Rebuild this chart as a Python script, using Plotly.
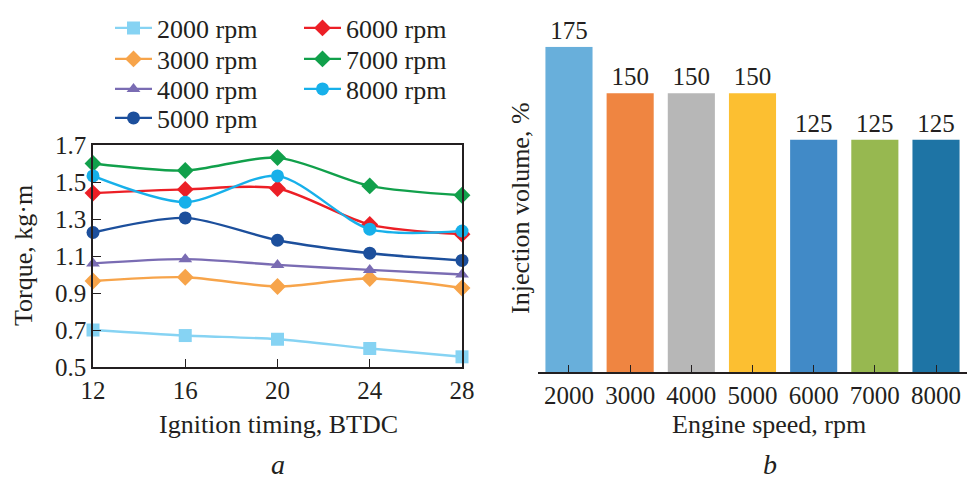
import plotly.graph_objects as go

timing = [12, 16, 20, 24, 28]
series_names = ["2000 rpm", "3000 rpm", "4000 rpm", "5000 rpm", "6000 rpm", "7000 rpm", "8000 rpm"]
torque_2000 = [0.70, 0.67, 0.65, 0.60, 0.555]
torque_3000 = [0.965, 0.985, 0.935, 0.978, 0.927]
torque_4000 = [1.06, 1.083, 1.052, 1.025, 1.0]
torque_5000 = [1.227, 1.306, 1.185, 1.115, 1.076]
torque_6000 = [1.44, 1.46, 1.465, 1.27, 1.218]
torque_7000 = [1.60, 1.562, 1.632, 1.479, 1.428]
torque_8000 = [1.533, 1.391, 1.533, 1.245, 1.235]

speeds = ["2000", "3000", "4000", "5000", "6000", "7000", "8000"]
injection = [175, 150, 150, 150, 125, 125, 125]

line_colors = ["#86d3f3", "#f7a44a", "#7a6cb3", "#1c4f9c", "#ec1f26", "#11a04b", "#17b0ea"]
symbols = ["square", "diamond", "triangle-up", "circle", "diamond", "diamond", "circle"]
bar_colors = ["#68afdb", "#ef8541", "#b7b7b7", "#fcbf31", "#418ac7", "#97b850", "#1e74a5"]

FONT = "Times New Roman, Liberation Serif, serif"
FS = 25
FT = 26
TXT = "#231f20"
W, H = 969, 482
all_torque = [torque_2000, torque_3000, torque_4000, torque_5000, torque_6000, torque_7000, torque_8000]

# legend placement (pixels): left edge and row centre
legend_pos = [(110, 28), (110, 59), (110, 89), (110, 118), (299, 28), (299, 59), (299, 89)]

fig = go.Figure()
for i, (name, vals) in enumerate(zip(series_names, all_torque)):
    fig.add_trace(go.Scatter(
        x=timing, y=vals, name=name, mode="lines+markers",
        line=dict(color=line_colors[i], width=2.4, shape="spline", smoothing=0.8),
        marker=dict(symbol=symbols[i], size=13 if symbols[i] != "triangle-up" else 12, color=line_colors[i]),
        xaxis="x", yaxis="y", cliponaxis=False,
        legend="legend" if i == 0 else f"legend{i + 1}",
    ))

fig.add_trace(go.Bar(
    x=speeds, y=injection, marker=dict(color=bar_colors, line=dict(width=0)),
    text=[str(v) for v in injection], textposition="outside", cliponaxis=False,
    textfont=dict(family=FONT, size=FS, color=TXT),
    xaxis="x2", yaxis="y2", showlegend=False,
))

axis_common = dict(showline=True, linecolor=TXT, linewidth=1.5, ticks="inside", ticklen=8,
                   tickcolor=TXT, tickfont=dict(family=FONT, size=FS, color=TXT),
                   showgrid=False, zeroline=False, automargin=False)

def note(text, x, y, angle=0, size=FT, yanchor="middle"):
    return dict(text=text, textangle=angle, x=x / W, y=1 - y / H, xref="paper", yref="paper",
                xanchor="center", yanchor=yanchor,
                showarrow=False, font=dict(family=FONT, size=size, color=TXT))

legends = {}
for i, (lx, ly) in enumerate(legend_pos):
    key = "legend" if i == 0 else f"legend{i + 1}"
    legends[key] = dict(x=lx / W, y=1 - ly / H, xanchor="left", yanchor="middle",
                        bgcolor="rgba(0,0,0,0)", font=dict(family=FONT, size=FT, color=TXT),
                        itemwidth=37, borderwidth=0)

fig.update_layout(
    width=W, height=H,
    margin=dict(l=0, r=0, t=0, b=0, autoexpand=False),
    paper_bgcolor="white", plot_bgcolor="white",
    font=dict(family=FONT, size=FS, color=TXT),
    bargap=0.23,
    xaxis=dict(domain=[93 / W, 462 / W], range=[12, 28], tickvals=timing, mirror=True,
               anchor="y", **axis_common),
    yaxis=dict(domain=[1 - 367 / H, 1 - 145 / H], range=[0.5, 1.7], tickvals=[0.5, 0.7, 0.9, 1.1, 1.3, 1.5, 1.7],
               tickformat=".1f", mirror=True, anchor="x", **axis_common),
    xaxis2=dict(domain=[538.4 / W, 966.6 / W], type="category", range=[-0.5, 6.5],
                anchor="y2", **axis_common),
    yaxis2=dict(domain=[1 - 372.3 / H, 1 - 46.7 / H], range=[0, 175], visible=False, anchor="x2"),
    annotations=[
        note("Torque, kg·m", 23, 256, angle=-90),
        note("Ignition timing, BTDC", 278.5, 424),
        note("Injection volume, %", 520, 208, angle=-90),
        note("Engine speed, rpm", 769, 424),
        note("<i>a</i>", 278, 482, size=FT + 2, yanchor="bottom"),
        note("<i>b</i>", 770, 482, size=FT + 2, yanchor="bottom"),
    ],
    **legends,
)

fig.write_html("out.html", post_script="document.body.style.margin='0';",
               config={"displayModeBar": False})
